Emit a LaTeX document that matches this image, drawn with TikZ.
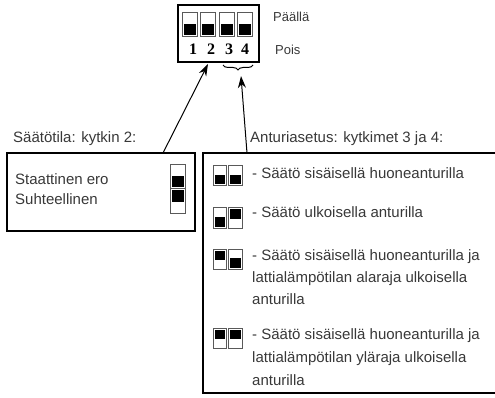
\documentclass[tikz,border=0pt]{standalone}
\usepackage{fontspec}
\setmainfont{Liberation Sans}
\newfontfamily\digitfont{Liberation Serif}
\usetikzlibrary{arrows.meta,decorations.pathreplacing,positioning}

% one slot of a DIP switch: x, y (top), width, height, 0 = black below / 1 = black above
\newcommand{\dipslot}[5]{%
  \draw[slotline,fill=white] (#1,#2) rectangle ++(#3,#4);
  \ifnum#5=0
    \fill[black] (#1+1.5,#2+#4*0.45) rectangle ++(#3-3,#4*0.55-1.5);
  \else
    \fill[black] (#1+1.5,#2+1.5) rectangle ++(#3-3,#4*0.55-1.5);
  \fi}

% two slots side by side, as used in the sensor list
\newcommand{\dippair}[4]{%
  \dipslot{#1}{#2-10}{13.5}{20}{#3}
  \dipslot{#1+15.5}{#2-10}{13.5}{20}{#4}}

\begin{document}
\begin{tikzpicture}[x=1pt,y=-1pt,
  every node/.style={inner sep=0pt,anchor=west,text height=10.5pt,text depth=3pt,
    font=\fontsize{15}{17}\selectfont,text=black!78},
  small/.style={font=\fontsize{13}{15}\selectfont},
  boxline/.style={line width=1.2pt},
  slotline/.style={draw=black!65,line width=1pt},
  digit/.style={anchor=center,font=\digitfont\bfseries\fontsize{16}{16}\selectfont,text=black},
  pointer/.style={line width=1pt,-{Stealth[length=12pt,width=8pt]}}]
\useasboundingbox (0,0) rectangle (495,398);

% the switch block
\draw[line width=1.5pt] (178,5) rectangle (259,62);
\foreach \x in {182,200.5,219,237.5}
  \dipslot{\x}{13}{15}{24}{0};
\foreach \n/\x in {1/193,2/211,3/229,4/245}
  \node[digit] (d\n) at (\x,51) {\n};
\node[small] (on) at (273,18) {Päällä};
\node[small] (off) at (275,51) {Pois};

% brace over switches 3 and 4
\draw[line width=1pt,decorate,decoration={brace,mirror,amplitude=5pt}] (223,65) -- (253,65);
\coordinate (bracetip) at (241,76);
\coordinate (modetip) at (208,64);

% control mode box
\node (modelbl) at (13,139) {Säätötila: kytkin 2:};
\draw[boxline] (7,153) rectangle (195,231);
\coordinate (modetop) at (163,153);
\node (static) at (15,181) {Staattinen ero};
\node (prop) at (15,201) {Suhteellinen};
\dipslot{170}{165}{15}{24}{0}
\dipslot{170}{189}{15}{24}{1}

% sensor setting box
\node (senslbl) at (250,139) {Anturiasetus: kytkimet 3 ja 4:};
\draw[boxline] (495,153) -- (203,153) -- (203,393) -- (495,393);
\coordinate (senstop) at (247,153);

\dippair{213}{176}{0}{0}
\node (item1) at (252,175) {- Säätö sisäisellä huoneanturilla};
\dippair{213}{218}{0}{1}
\node (item2) at (252,214) {- Säätö ulkoisella anturilla};
\dippair{213}{259}{1}{0}
\node (item3a) at (252,257) {- Säätö sisäisellä huoneanturilla ja};
\node (item3b) at (252,279) {lattialämpötilan alaraja ulkoisella};
\node (item3c) at (252,301) {anturilla};
\dippair{213}{338}{1}{1}
\node (item4a) at (252,336) {- Säätö sisäisellä huoneanturilla ja};
\node (item4b) at (252,359) {lattialämpötilan yläraja ulkoisella};
\node (item4c) at (252,382) {anturilla};

% pointers
\draw[pointer] (modetop) -- (modetip);
\draw[pointer] (senstop) -- (bracetip);
\end{tikzpicture}
\end{document}
